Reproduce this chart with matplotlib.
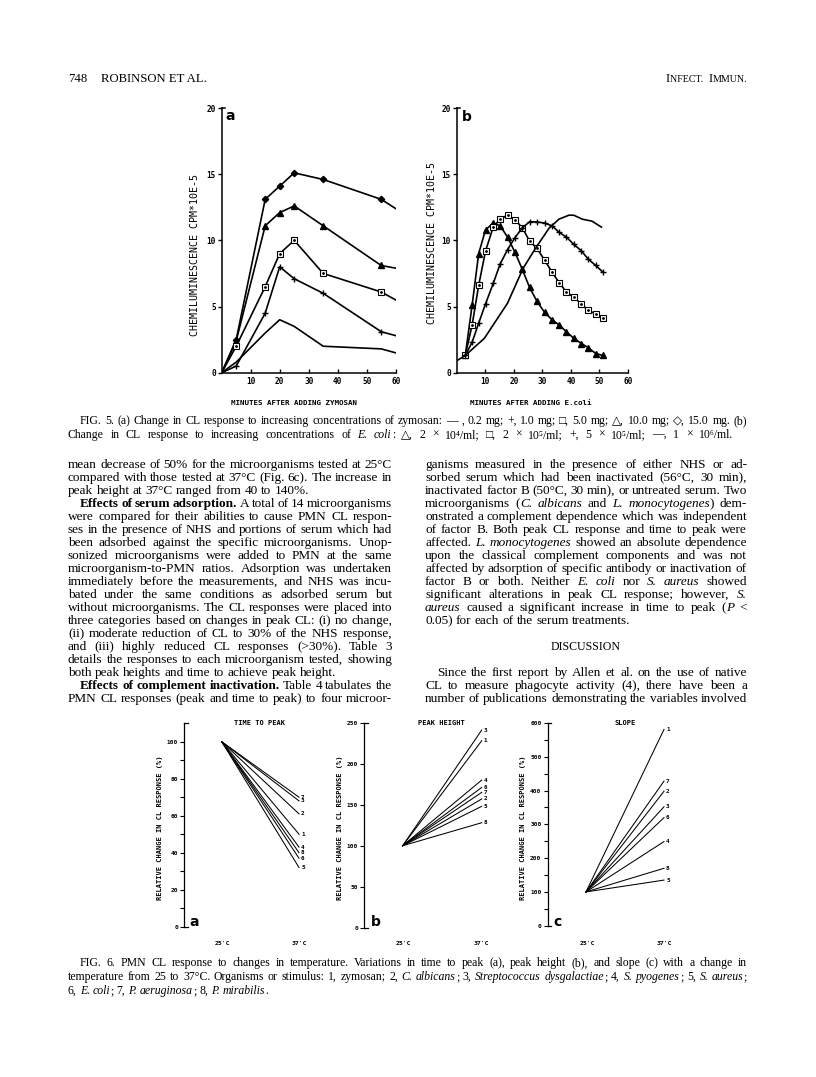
import matplotlib
matplotlib.use('Agg')
import matplotlib.pyplot as plt
import numpy as np

# ---------------- DATA ----------------
# Fig 5a: zymosan concentrations
t5a = [0, 5, 15, 20, 25, 35, 55, 60]
z_15mg = [0, 2.5, 13.1, 14.1, 15.1, 14.6, 13.1, 12.4]
z_10mg = [0, 2.4, 11.1, 12.1, 12.6, 11.1, 8.1, 7.9]
z_5mg = [0, 2.0, 6.5, 9.0, 10.0, 7.5, 6.1, 5.5]
z_1mg = [0, 0.5, 4.5, 8.0, 7.1, 6.0, 3.1, 2.8]
z_02mg = [0, 0.8, 3.0, 4.0, 3.5, 2.0, 1.8, 1.5]

# Fig 5b: E. coli concentrations
t5b = [3.0, 5.4, 7.7, 10.1, 12.8, 15.2, 17.8, 20.4, 23.0, 25.5,
       28.1, 30.8, 33.4, 35.9, 38.4, 41.0, 43.7, 46.0, 48.7, 51.2]
e_2e4 = [1.3, 5.1, 9.0, 10.8, 11.3, 11.1, 10.25, 9.1, 7.8, 6.45,
         5.4, 4.55, 4.0, 3.6, 3.1, 2.6, 2.2, 1.9, 1.45, 1.3]
e_2e5 = [1.3, 3.6, 6.6, 9.2, 11.0, 11.6, 11.9, 11.55, 10.95, 9.95,
         9.4, 8.5, 7.6, 6.8, 6.1, 5.7, 5.2, 4.7, 4.45, 4.1]
e_5e5 = [1.3, 2.3, 3.75, 5.2, 6.75, 8.2, 9.3, 10.2, 10.95, 11.4,
         11.4, 11.3, 11.1, 10.6, 10.25, 9.7, 9.2, 8.6, 8.1, 7.6]
t5b_1e6 = [0, 3.0, 9.7, 17.8, 23.3, 27.9, 32.3, 35.8, 39.3, 41.0, 44.0, 47.4, 50.7]
e_1e6 = [0.9, 1.3, 2.6, 5.25, 7.9, 9.5, 10.9, 11.6, 11.9, 11.9, 11.6, 11.45, 11.0]

# Fig 6: relative change (%) at 37 C (25 C = 100)
organisms = ['1', '2', '3', '4', '5', '6', '7', '8']
temps = [25, 37]
time_to_peak = [50, 61, 68, 43, 32, 37, 70, 40]
peak_height = [228, 157, 241, 180, 148, 171, 165, 128]
slope = [581, 398, 352, 249, 135, 320, 428, 170]

# ---------------- FIGURE ----------------
W, H = 816, 1077
DPI = 100
fig = plt.figure(figsize=(W / DPI, H / DPI), dpi=DPI)
fig.patch.set_facecolor('white')
renderer = fig.canvas.get_renderer()

PF = 'DejaVu Sans Mono'
SERIF = ['Liberation Serif', 'DejaVu Serif', 'DejaVu Sans']


def fx(x):
    return x / W


def fy(y):
    return 1 - y / H


def add_axes_px(l, r, t, b):
    return fig.add_axes([fx(l), fy(b), (r - l) / W, (b - t) / H])


def ptext(x, y, s, size=5, weight='bold', **kw):
    kw.setdefault('ha', 'center')
    kw.setdefault('va', 'center')
    fig.text(fx(x), fy(y), s, fontsize=size, family=PF, fontweight=weight, **kw)


def style_ticklabels(ax, size=4.8):
    for lbl in ax.get_xticklabels() + ax.get_yticklabels():
        lbl.set_fontfamily(PF)
        lbl.set_fontweight('bold')
        lbl.set_fontsize(size)


# ---- Fig 5 ----
def fig5_axes(l, r):
    ax = add_axes_px(l, r, 108, 372.7)
    ax.set_xlim(0, 60)
    ax.set_ylim(0, 20)
    ax.patch.set_alpha(0)
    for s in ['top', 'right']:
        ax.spines[s].set_visible(False)
    for s in ['left', 'bottom']:
        ax.spines[s].set_linewidth(1.1)
    ax.set_xticks([10, 20, 30, 40, 50, 60])
    ax.set_yticks([0, 5, 10, 15, 20])
    ax.tick_params(axis='y', direction='out', length=3, width=1.0, pad=1.2)
    ax.tick_params(axis='x', direction='in', length=3, width=1.0, pad=3)
    style_ticklabels(ax, size=5.6)
    ax.plot([0, 1.2], [20, 20], color='black', lw=1.1, clip_on=False)
    return ax


ax = fig5_axes(221.7, 395.7)
lk = dict(color='black', lw=1.2)
ev = slice(1, 7)
ax.plot(t5a, z_15mg, marker='D', ms=3.2, mfc='black', mec='black', markevery=ev, **lk)
ax.plot(t5a, z_10mg, marker='^', ms=4.0, mfc='black', mec='black', markevery=ev, **lk)
ax.plot(t5a, z_5mg, marker='s', ms=4.2, mfc='white', mec='black', mew=0.8, markevery=ev, **lk)
ax.plot(t5a[1:7], z_5mg[1:7], ls='none', marker='o', ms=1.0, color='black')
ax.plot(t5a, z_1mg, marker='+', ms=5.0, mew=1.0, mec='black', markevery=ev, **lk)
ax.plot(t5a, z_02mg, **lk)

ax = fig5_axes(456.7, 628)
ax.plot(t5b, e_2e4, marker='^', ms=3.8, mfc='black', mec='black', **lk)
ax.plot(t5b, e_2e5, marker='s', ms=4.0, mfc='white', mec='black', mew=0.8, **lk)
ax.plot(t5b, e_2e5, ls='none', marker='o', ms=1.0, color='black')
ax.plot(t5b, e_5e5, marker='+', ms=5.0, mew=1.0, mec='black', **lk)
ax.plot(t5b_1e6, e_1e6, **lk)

ptext(195, 254.7, 'CHEMILUMINESCENCE CPM*10E-5', size=7.2, weight='normal', rotation=90)
ptext(431.7, 243.3, 'CHEMILUMINESCENCE CPM*10E-5', size=7.2, weight='normal', rotation=90)
ptext(293.8, 403.3, 'MINUTES AFTER ADDING ZYMOSAN', size=5.4)
ptext(530.5, 403.3, 'MINUTES AFTER ADDING E.coli', size=5.4)
fig.text(fx(229.7), fy(116), 'a', fontsize=10, fontweight='bold', family='DejaVu Sans',
         ha='center', va='center')
fig.text(fx(467), fy(117), 'b', fontsize=10, fontweight='bold', family='DejaVu Sans',
         ha='center', va='center')


# ---- Fig 6 ----
def fig6_axes(yaxis_x, x25, x37, right, y0, ytop_px, ymax, major, minor, title, tx, ylx,
              letter, lx, values):
    ppu = (x37 - x25) / 12.0
    ax = add_axes_px(yaxis_x, right, ytop_px, y0)
    ax.set_xlim(25 - (x25 - yaxis_x) / ppu, 37 + (right - x37) / ppu)
    ax.set_ylim(0, ymax)
    ax.patch.set_alpha(0)
    for s in ['top', 'right', 'bottom']:
        ax.spines[s].set_visible(False)
    ax.spines['left'].set_linewidth(0.9)
    ax.set_xticks([])
    ax.set_yticks(major)
    ax.set_yticks(minor, minor=True)
    ax.tick_params(axis='y', which='both', direction='out', length=3, width=0.8, pad=1.5)
    style_ticklabels(ax, size=4.4)
    lo = ax.get_xlim()[0]
    stub = 3.5 / ppu
    ax.plot([lo, lo + stub], [0, 0], color='black', lw=0.9, clip_on=False)
    ax.plot([lo, lo + stub], [ymax, ymax], color='black', lw=0.9, clip_on=False)
    for org, v in zip(organisms, values):
        ax.plot(temps, [100, v], color='black', lw=0.75)
        ax.annotate(org, (37, v), xytext=(1.5, 0), textcoords='offset points',
                    ha='left', va='center', fontsize=4.3, family=PF, fontweight='bold')
    ptext(tx, 722.7, title, size=5.0)
    ptext(ylx, 828, 'RELATIVE CHANGE IN CL RESPONSE (%)', size=5.0, rotation=90)
    ptext(x25 + 1, 943.5, "25'C", size=4.6)
    ptext(x37, 943.5, "37'C", size=4.6)
    fig.text(fx(lx), fy(922.5), letter, fontsize=10, fontweight='bold', family='DejaVu Sans',
             ha='center', va='center')
    return ax


fig6_axes(184.3, 221.7, 299.0, 320, 926.7, 723.2, 110, [0, 20, 40, 60, 80, 100],
          [10, 30, 50, 70, 90], 'TIME TO PEAK', 260, 160, 'a', 194, time_to_peak)
fig6_axes(364.3, 402.7, 481.7, 500, 927.7, 722.7, 250, [0, 50, 100, 150, 200, 250],
          [], 'PEAK HEIGHT', 441, 340, 'b', 375.5, peak_height)
fig6_axes(547.7, 586.0, 664.0, 690, 925.7, 723.0, 600, [0, 100, 200, 300, 400, 500, 600],
          [50, 150, 250, 350, 450, 550], 'SLOPE', 624.7, 522.7, 'c', 557.7, slope)


# ---------------- TEXT ----------------
def parse(line):
    runs = []
    style = 'r'
    for ch in line:
        if ch == '{':
            style = 'i'
        elif ch == '}':
            style = 'r'
        elif ch == '[':
            style = 'b'
        elif ch == ']':
            style = 'r'
        else:
            runs.append((ch, style))
    words = []
    cur = []
    for ch, st in runs:
        if ch == ' ':
            if cur:
                words.append(cur)
            cur = []
        else:
            if cur and cur[-1][1] == st:
                cur[-1] = (cur[-1][0] + ch, st)
            else:
                cur.append((ch, st))
    if cur:
        words.append(cur)
    return words


def run_text(s, st, size):
    kw = dict(fontsize=size, family=SERIF, va='baseline', ha='left')
    if st == 'i':
        kw['fontstyle'] = 'italic'
    if st == 'b':
        kw['fontweight'] = 'bold'
    t = fig.text(0, 0, s, **kw)
    w = t.get_window_extent(renderer).width
    return t, w


def natural_width(line, size):
    words = parse(line)
    em = size * DPI / 72.0
    tot = 0
    for wd in words:
        for s, st in wd:
            t, w = run_text(s, st, size)
            tot += w
            t.remove()
    return tot + 0.25 * em * (len(words) - 1)


def fit_size(items, s0=9.0, q=50):
    ratios = [tw / natural_width(ln, s0) for ln, tw in items]
    return s0 * float(np.percentile(ratios, q)) * 0.99


def text_line(line, x0, x1, ybase, size, justify=True, indent=0):
    words = parse(line)
    em = size * DPI / 72.0
    space = 0.25 * em
    placed = []
    for wd in words:
        parts = []
        tot = 0
        for s, st in wd:
            t, w = run_text(s, st, size)
            parts.append((t, w))
            tot += w
        placed.append((parts, tot))
    natural = sum(p[1] for p in placed)
    start = x0 + indent
    n = len(placed)
    if justify and n > 1:
        gap = (x1 - start - natural) / (n - 1)
        gap = max(gap, 0.15 * em)
    else:
        gap = space
    x = start
    for parts, tot in placed:
        for t, w in parts:
            t.set_position((fx(x), fy(ybase)))
            x += w
        x += gap


def paragraph_block(lines, x0, x1, ytop, lh, size):
    for i, (ln, just, ind) in enumerate(lines):
        if ln is None:
            continue
        text_line(ln, x0, x1, ytop + i * lh, size, justify=just, indent=ind)


LX0, LX1 = 68, 392
RX0, RX1 = 425, 747

# (text, justify-to-x or None, indent)
cap5 = [
    ('FIG. 5. (a) Change in CL response to increasing concentrations of zymosan: — , 0.2 mg; +, 1.0 mg; □, 5.0 mg; △, 10.0 mg; ◇, 15.0 mg. (b)', RX1, 12),
    ('Change in CL response to increasing concentrations of {E. coli}: △, 2 × 10⁴/ml; □, 2 × 10⁵/ml; +, 5 × 10⁵/ml; —, 1 × 10⁶/ml.', 733, 0),
]
cap6 = [
    ('FIG. 6. PMN CL response to changes in temperature. Variations in time to peak (a), peak height (b), and slope (c) with a change in', RX1, 12),
    ('temperature from 25 to 37°C. Organisms or stimulus: 1, zymosan; 2, {C. albicans}; 3, {Streptococcus dysgalactiae}; 4, {S. pyogenes}; 5, {S. aureus};', RX1, 0),
    ('6, {E. coli}; 7, {P. aeruginosa}; 8, {P. mirabilis}.', None, 0),
]
left_lines = [
    ('mean decrease of 50% for the microorganisms tested at 25°C', True, 0),
    ('compared with those tested at 37°C (Fig. 6c). The increase in', True, 0),
    ('peak height at 37°C ranged from 40 to 140%.', False, 0),
    ('[Effects of serum adsorption.] A total of 14 microorganisms', True, 12),
    ('were compared for their abilities to cause PMN CL respon-', True, 0),
    ('ses in the presence of NHS and portions of serum which had', True, 0),
    ('been adsorbed against the specific microorganisms. Unop-', True, 0),
    ('sonized microorganisms were added to PMN at the same', True, 0),
    ('microorganism-to-PMN ratios. Adsorption was undertaken', True, 0),
    ('immediately before the measurements, and NHS was incu-', True, 0),
    ('bated under the same conditions as adsorbed serum but', True, 0),
    ('without microorganisms. The CL responses were placed into', True, 0),
    ('three categories based on changes in peak CL: (i) no change,', True, 0),
    ('(ii) moderate reduction of CL to 30% of the NHS response,', True, 0),
    ('and (iii) highly reduced CL responses (>30%). Table 3', True, 0),
    ('details the responses to each microorganism tested, showing', True, 0),
    ('both peak heights and time to achieve peak height.', False, 0),
    ('[Effects of complement inactivation.] Table 4 tabulates the', True, 12),
    ('PMN CL responses (peak and time to peak) to four microor-', True, 0),
]
right_lines = [
    ('ganisms measured in the presence of either NHS or ad-', True, 0),
    ('sorbed serum which had been inactivated (56°C, 30 min),', True, 0),
    ('inactivated factor B (50°C, 30 min), or untreated serum. Two', True, 0),
    ('microorganisms ({C. albicans} and {L. monocytogenes}) dem-', True, 0),
    ('onstrated a complement dependence which was independent', True, 0),
    ('of factor B. Both peak CL response and time to peak were', True, 0),
    ('affected. {L. monocytogenes} showed an absolute dependence', True, 0),
    ('upon the classical complement components and was not', True, 0),
    ('affected by adsorption of specific antibody or inactivation of', True, 0),
    ('factor B or both. Neither {E. coli} nor {S. aureus} showed', True, 0),
    ('significant alterations in peak CL response; however, {S.}', True, 0),
    ('{aureus} caused a significant increase in time to peak ({P} <', True, 0),
    ('0.05) for each of the serum treatments.', False, 0),
    (None, False, 0),
    (None, False, 0),
    (None, False, 0),
    ('Since the first report by Allen et al. on the use of native', True, 12),
    ('CL to measure phagocyte activity (4), there have been a', True, 0),
    ('number of publications demonstrating the variables involved', True, 0),
]

body_items = [(ln, LX1 - LX0 - ind) for ln, j, ind in left_lines if ln and j] + \
             [(ln, RX1 - RX0 - ind) for ln, j, ind in right_lines if ln and j]
BODY = min(max(fit_size(body_items, q=25), 8.5), 11.0)
cap_items = [(ln, RX1 - LX0 - ind) for ln, j, ind in cap5[:1] + cap6[:2]]
CAP = min(max(fit_size(cap_items, q=0), 7.5), 10.0)

# header
HY = 82
fig.text(fx(68), fy(HY), '748', fontsize=9.2, family=SERIF, va='baseline', ha='left')
fig.text(fx(101), fy(HY), 'ROBINSON ET AL.', fontsize=9.2, family=SERIF, va='baseline', ha='left')
hdr_runs = [('I', 9.2), ('NFECT. ', 7.2), ('I', 9.2), ('MMUN.', 7.2)]
ws = []
objs = []
for s, sz in hdr_runs:
    t = fig.text(0, 0, s, fontsize=sz, family=SERIF, va='baseline', ha='left')
    objs.append(t)
    ws.append(t.get_window_extent(renderer).width)
sp = 0.25 * 7.2 * DPI / 72.0
total = sum(ws) + sp
x = 747 - total
for t, w, (s, sz) in zip(objs, ws, hdr_runs):
    t.set_position((fx(x), fy(HY)))
    x += w + (sp if s.endswith(' ') else 0)

# Fig 5 caption
for i, (ln, xr, ind) in enumerate(cap5):
    text_line(ln, LX0, xr if xr else RX1, 424 + i * 14, CAP, justify=xr is not None, indent=ind)

Y0, LH = 468, 13.0
paragraph_block(left_lines, LX0, LX1, Y0, LH, BODY)
paragraph_block(right_lines, RX0, RX1, Y0, LH, BODY)
fig.text(fx((RX0 + RX1) / 2), fy(Y0 + 14 * LH), 'DISCUSSION', fontsize=BODY * 0.9,
         family=SERIF, va='baseline', ha='center')

# Fig 6 caption
for i, (ln, xr, ind) in enumerate(cap6):
    text_line(ln, LX0, xr if xr else RX1, 966 + i * 14, CAP, justify=xr is not None, indent=ind)

fig.savefig('out.png', dpi=DPI, facecolor='white')
